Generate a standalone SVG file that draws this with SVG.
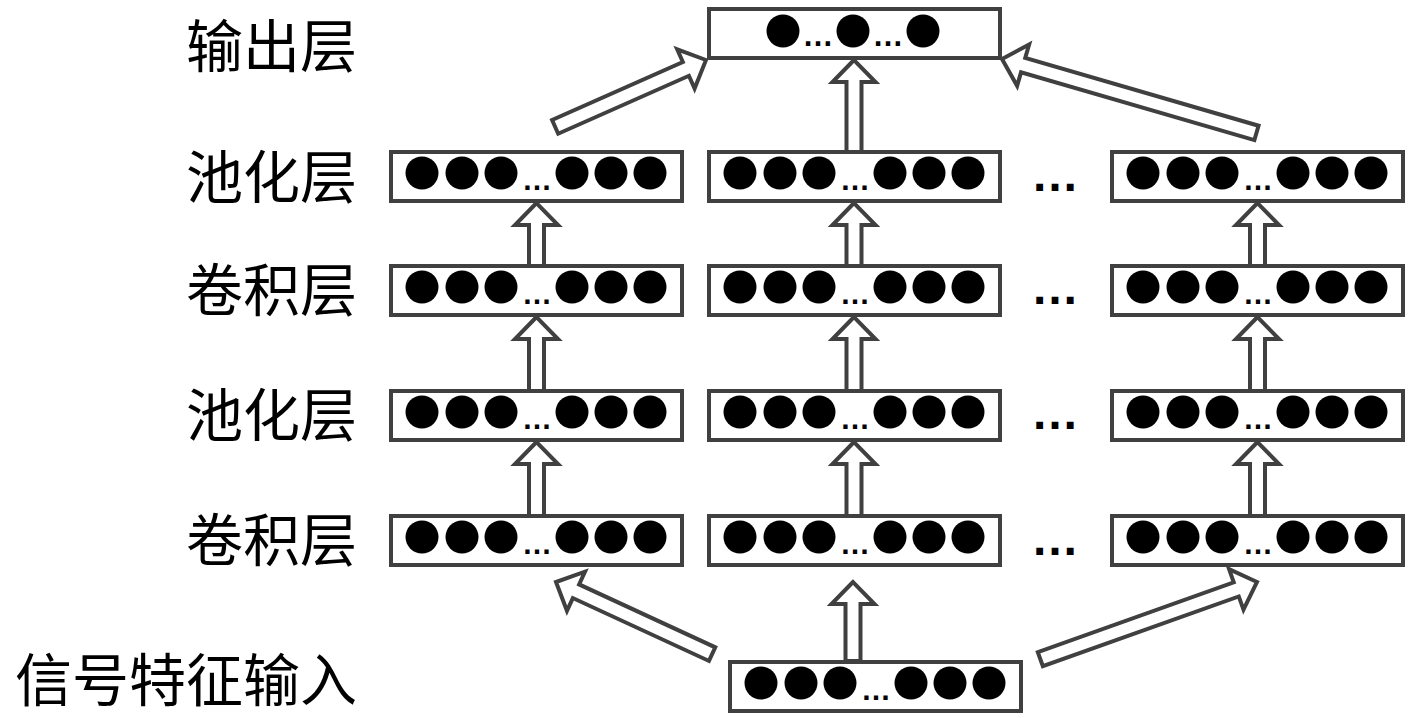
<svg xmlns="http://www.w3.org/2000/svg" xmlns:xlink="http://www.w3.org/1999/xlink" width="1417" height="718" viewBox="0 0 1417 718">
<style>
.box{fill:#fff;stroke:#404040;stroke-width:4}
.dot{fill:#000}
.arr{fill:#fff;stroke:#404040;stroke-width:4;stroke-linejoin:miter}
.lbl{font-family:"Noto Sans CJK SC",sans-serif;font-size:57px;fill:#000;text-anchor:end}
.ell{font-family:"Liberation Sans",Arial,sans-serif;font-weight:bold;fill:#000;text-anchor:middle}
</style>
<defs>
<g id="six">
<rect class="box" x="2" y="2" width="291" height="49"/>
<circle class="dot" cx="33" cy="23" r="16.5"/>
<circle class="dot" cx="73" cy="23" r="16.5"/>
<circle class="dot" cx="112" cy="23" r="16.5"/>
<circle class="dot" cx="183" cy="23" r="16.5"/>
<circle class="dot" cx="222" cy="23" r="16.5"/>
<circle class="dot" cx="261" cy="23" r="16.5"/>
<text class="ell" x="148" y="40" font-size="30">…</text>
</g>
</defs>
<rect width="1417" height="718" fill="#fff"/>

<g id="connectors">
<polygon class="arr" transform="translate(536.5,203) rotate(-90)" points="0,0 -22,-21.5 -22,-7.5 -63,-7.5 -63,7.5 -22,7.5 -22,21.5"/>
<polygon class="arr" transform="translate(536.5,317) rotate(-90)" points="0,0 -22,-21.5 -22,-7.5 -74,-7.5 -74,7.5 -22,7.5 -22,21.5"/>
<polygon class="arr" transform="translate(536.5,442) rotate(-90)" points="0,0 -22,-21.5 -22,-7.5 -74,-7.5 -74,7.5 -22,7.5 -22,21.5"/>
<polygon class="arr" transform="translate(854,60) rotate(-90)" points="0,0 -22,-21.5 -22,-7.5 -92,-7.5 -92,7.5 -22,7.5 -22,21.5"/>
<polygon class="arr" transform="translate(854,203) rotate(-90)" points="0,0 -22,-21.5 -22,-7.5 -63,-7.5 -63,7.5 -22,7.5 -22,21.5"/>
<polygon class="arr" transform="translate(854,317) rotate(-90)" points="0,0 -22,-21.5 -22,-7.5 -74,-7.5 -74,7.5 -22,7.5 -22,21.5"/>
<polygon class="arr" transform="translate(854,442) rotate(-90)" points="0,0 -22,-21.5 -22,-7.5 -74,-7.5 -74,7.5 -22,7.5 -22,21.5"/>
<polygon class="arr" transform="translate(853,582) rotate(-90)" points="0,0 -22,-21.5 -22,-7.5 -79,-7.5 -79,7.5 -22,7.5 -22,21.5"/>
<polygon class="arr" transform="translate(1257.5,203) rotate(-90)" points="0,0 -22,-21.5 -22,-7.5 -63,-7.5 -63,7.5 -22,7.5 -22,21.5"/>
<polygon class="arr" transform="translate(1257.5,317) rotate(-90)" points="0,0 -22,-21.5 -22,-7.5 -74,-7.5 -74,7.5 -22,7.5 -22,21.5"/>
<polygon class="arr" transform="translate(1257.5,442) rotate(-90)" points="0,0 -22,-21.5 -22,-7.5 -74,-7.5 -74,7.5 -22,7.5 -22,21.5"/>
<polygon class="arr" transform="translate(706,60) rotate(-23.9)" points="0,0 -22,-21.5 -22,-7.5 -165,-7.5 -165,7.5 -22,7.5 -22,21.5"/>
<polygon class="arr" transform="translate(1002,59) rotate(-163.8)" points="0,0 -22,-21.5 -22,-7.5 -265,-7.5 -265,7.5 -22,7.5 -22,21.5"/>
<polygon class="arr" transform="translate(556,582) rotate(-155.2)" points="0,0 -22,-21.5 -22,-7.5 -172,-7.5 -172,7.5 -22,7.5 -22,21.5"/>
<polygon class="arr" transform="translate(1257,582) rotate(-19.6)" points="0,0 -22,-21.5 -22,-7.5 -230,-7.5 -230,7.5 -22,7.5 -22,21.5"/>
</g>

<g id="output">
<rect class="box" x="709" y="9" width="291" height="49"/>
<circle class="dot" cx="783" cy="31" r="16.5"/>
<circle class="dot" cx="853" cy="31" r="16.5"/>
<circle class="dot" cx="923" cy="31" r="16.5"/>
<text class="ell" x="818" y="46" font-size="31">…</text>
<text class="ell" x="888" y="46" font-size="31">…</text>
</g>

<g id="pool2-1"><use xlink:href="#six" transform="translate(389,150)"/></g>
<g id="pool2-2"><use xlink:href="#six" transform="translate(707,150)"/></g>
<g id="pool2-n"><use xlink:href="#six" transform="translate(1110,150)"/></g>
<g id="conv2-1"><use xlink:href="#six" transform="translate(389,264)"/></g>
<g id="conv2-2"><use xlink:href="#six" transform="translate(707,264)"/></g>
<g id="conv2-n"><use xlink:href="#six" transform="translate(1110,264)"/></g>
<g id="pool1-1"><use xlink:href="#six" transform="translate(389,389)"/></g>
<g id="pool1-2"><use xlink:href="#six" transform="translate(707,389)"/></g>
<g id="pool1-n"><use xlink:href="#six" transform="translate(1110,389)"/></g>
<g id="conv1-1"><use xlink:href="#six" transform="translate(389,514)"/></g>
<g id="conv1-2"><use xlink:href="#six" transform="translate(707,514)"/></g>
<g id="conv1-n"><use xlink:href="#six" transform="translate(1110,514)"/></g>
<g id="input"><use xlink:href="#six" transform="translate(728,660)"/></g>

<g id="separators">
<text class="ell" x="1055" y="191" font-size="48">…</text>
<text class="ell" x="1055" y="304" font-size="48">…</text>
<text class="ell" x="1055" y="429" font-size="48">…</text>
<text class="ell" x="1055" y="555" font-size="48">…</text>
</g>

<g id="labels">
<text class="lbl" x="357" y="67">输出层</text>
<text class="lbl" x="357" y="198">池化层</text>
<text class="lbl" x="357" y="311">卷积层</text>
<text class="lbl" x="357" y="436">池化层</text>
<text class="lbl" x="357" y="561">卷积层</text>
<text class="lbl" x="357" y="701">信号特征输入</text>
</g>
</svg>
